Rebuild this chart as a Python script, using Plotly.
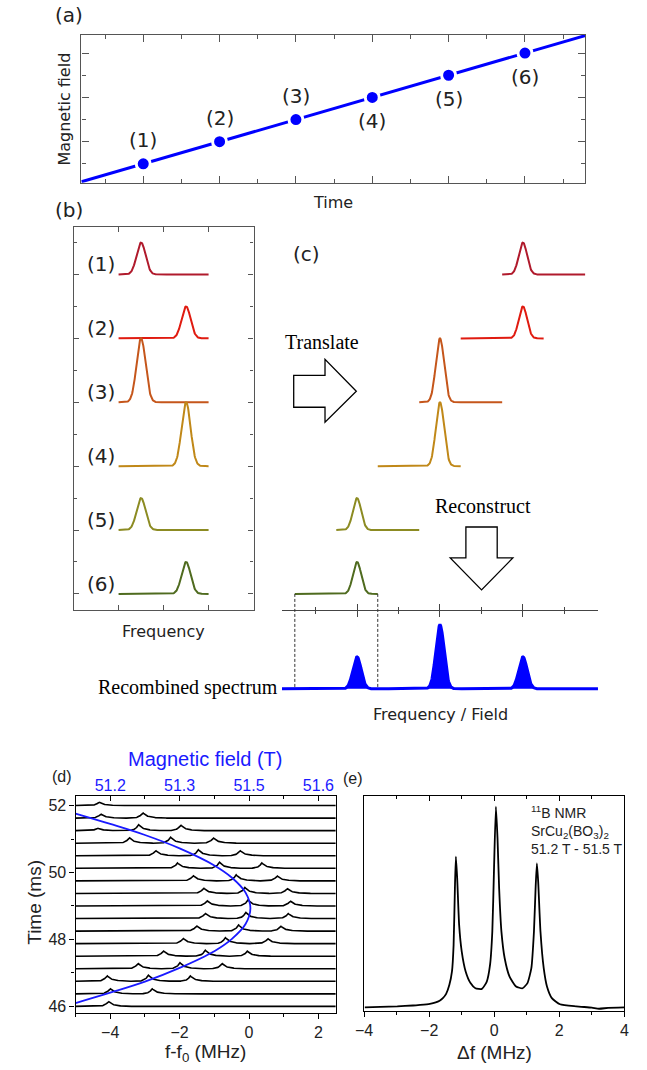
import numpy as np
import plotly.graph_objects as go

W, H = 647, 1070

# ---------------- data ----------------
# (a) linear field ramp and the six acquisition points
ramp_time = [0.19, 6.79]
ramp_field = [0.19, 6.79]
acq_time = [1, 2, 3, 4, 5, 6]
acq_field = [1, 2, 3, 4, 5, 6]
acq_labels = ["(1)", "(2)", "(3)", "(4)", "(5)", "(6)"]
label_above = [True, True, True, False, False, False]

# (b)/(c) schematic spectra
spec_labels = ["(1)", "(2)", "(3)", "(4)", "(5)", "(6)"]
spec_peak_pos = [0.5, 1.5, 0.5, 1.5, 0.5, 1.5]      # local frequency of the line
spec_peak_height = [1, 1, 2, 2, 1, 1]
spec_baseline = [10.5, 8.5, 6.5, 4.5, 2.5, 0.5]      # vertical stacking level
spec_shift = [1.5, 0.5, -0.5, -1.5, -2.5, -3.5]      # translation along frequency/field
spec_colors = ["#b01a2c", "#e01b10", "#c5561b", "#c08818", "#8c8b22", "#4f6b1f"]
spec_window = [0.0, 2.0]
peak_sigma = 0.1
recombined_base = -2.47

# (d) time-resolved 11B spectra: acquisition time and line positions (MHz)
trace_time = [46.0, 46.375, 46.75, 47.125, 47.5, 47.875, 48.25, 48.625, 49.0,
              49.375, 49.75, 50.125, 50.5, 50.875, 51.25, 51.625, 52.0]
trace_peaks = [
    [-4.05],
    [-4.00, -2.79],
    [-4.09, -2.90, -1.69],
    [-3.20, -1.99, -0.78],
    [-2.47, -1.26, -0.05],
    [-1.90, -0.68, 0.54],
    [-1.51, -0.30, 0.91],
    [-1.26, -0.09, 1.13],
    [-1.21, -0.03, 1.19],
    [-1.31, -0.12, 1.10],
    [-1.61, -0.37, 0.81],
    [-2.06, -0.85, 0.37],
    [-2.69, -1.46, -0.26],
    [-3.45, -2.26, -1.03],
    [-4.37, -3.18, -1.97],
    [-4.27, -3.06],
    [-4.32],
]
trace_heights = [
    [0.15],
    [0.16, 0.15],
    [0.17, 0.18, 0.16],
    [0.16, 0.18, 0.16],
    [0.16, 0.18, 0.15],
    [0.16, 0.18, 0.15],
    [0.16, 0.18, 0.15],
    [0.16, 0.18, 0.15],
    [0.16, 0.18, 0.15],
    [0.16, 0.18, 0.15],
    [0.16, 0.18, 0.15],
    [0.16, 0.18, 0.16],
    [0.16, 0.18, 0.16],
    [0.17, 0.18, 0.16],
    [0.08, 0.18, 0.17],
    [0.12, 0.16],
    [0.10],
]
# line profile of a single resonance (offset in MHz, relative amplitude)
profile_offset = [-0.35, -0.20, -0.10, -0.05, 0.0, 0.06, 0.12, 0.22, 0.40, 0.70]
profile_amp = [0.0, 0.08, 0.30, 0.60, 1.0, 0.65, 0.40, 0.20, 0.07, 0.0]

# magnetic field pulse mapped onto the frequency axis
field_x = [-5.0, -4.0, -3.0, -2.0, -1.0, -0.5, -0.1, 0.04, -0.1, -0.5, -1.0, -2.0, -3.0, -4.0, -5.0]
field_t = [46.10, 46.41, 46.74, 47.15, 47.65, 48.01, 48.46, 48.93, 49.40, 49.85, 50.21, 50.72, 51.12, 51.45, 51.76]
field_tickvals = [-4, -2, 0, 2]
field_ticktext = ["51.2", "51.3", "51.5", "51.6"]

# (e) reconstructed spectrum
recon_df = [-3.98, -3.50, -2.98, -2.50, -2.28, -1.98, -1.80, -1.68, -1.58, -1.48, -1.38, -1.30,
            -1.25, -1.21, -1.18, -1.14, -1.08, -1.00, -0.88, -0.73, -0.58, -0.38, -0.23, -0.13,
            -0.06, -0.01, 0.05, 0.10, 0.15, 0.22, 0.32, 0.47, 0.67, 0.87, 1.02, 1.14, 1.22,
            1.27, 1.31, 1.35, 1.42, 1.52, 1.62, 1.77, 2.02, 2.52, 3.00, 3.22, 3.50, 4.00]
recon_int = [0.017, 0.020, 0.022, 0.026, 0.029, 0.034, 0.040, 0.048, 0.060, 0.080, 0.122, 0.184,
             0.307, 0.569, 0.716, 0.616, 0.400, 0.276, 0.184, 0.130, 0.106, 0.103, 0.137, 0.214,
             0.369, 0.647, 0.948, 0.800, 0.569, 0.369, 0.245, 0.160, 0.114, 0.106, 0.130, 0.199,
             0.369, 0.569, 0.685, 0.600, 0.369, 0.199, 0.114, 0.060, 0.032, 0.022, 0.016, 0.011,
             0.015, 0.017]


# ---------------- helpers ----------------
def px_x(x):
    return x / W


def px_y(y):
    return 1 - y / H


def gauss(u, center, height):
    return height * np.exp(-0.5 * ((u - center) / peak_sigma) ** 2)


SANS = "DejaVu Sans"
ARIAL = "Liberation Sans, Arial"
SERIF = "Liberation Serif, Times New Roman"

fig = go.Figure()

# ---------------- (a) field ramp ----------------
fig.add_trace(go.Scatter(x=ramp_time, y=ramp_field, mode="lines",
                         line=dict(color="#0000ff", width=3), xaxis="x", yaxis="y"))
fig.add_trace(go.Scatter(x=acq_time, y=acq_field, mode="markers",
                         marker=dict(color="#0000ff", size=14, line=dict(color="white", width=3)),
                         xaxis="x", yaxis="y"))
for t, f, lab, up in zip(acq_time, acq_field, acq_labels, label_above):
    fig.add_annotation(x=t, y=f, xref="x", yref="y", text=lab, showarrow=False,
                       xanchor="center", yanchor="middle",
                       yshift=24 if up else -24,
                       font=dict(family=SANS, size=20, color="#222"))

# ---------------- (b) acquired spectra ----------------
u = np.linspace(spec_window[0], spec_window[1], 241)
for k in range(6):
    y = spec_baseline[k] + gauss(u, spec_peak_pos[k], spec_peak_height[k])
    fig.add_trace(go.Scatter(x=u, y=y, mode="lines", line=dict(color=spec_colors[k], width=2),
                             xaxis="x2", yaxis="y2"))
    fig.add_annotation(x=px_x(94), xref="paper", y=spec_baseline[k], yref="y2", yshift=10,
                       xanchor="center", yanchor="middle",
                       text=spec_labels[k], showarrow=False,
                       font=dict(family=SANS, size=20, color="#222"))

# ---------------- (c) translated spectra and recombination ----------------
for k in range(6):
    y = spec_baseline[k] + gauss(u, spec_peak_pos[k], spec_peak_height[k])
    fig.add_trace(go.Scatter(x=u + spec_shift[k], y=y, mode="lines",
                             line=dict(color=spec_colors[k], width=2),
                             xaxis="x3", yaxis="y3"))

xg = np.linspace(-3.81, 3.81, 763)
total = np.zeros_like(xg)
count = np.zeros_like(xg)
for k in range(6):
    local = xg - spec_shift[k]
    inside = (local >= spec_window[0]) & (local <= spec_window[1])
    total += np.where(inside, gauss(local, spec_peak_pos[k], spec_peak_height[k]), 0.0)
    count += inside
recombined = np.where(count > 0, total / np.maximum(count, 1), 0.0)

fig.add_trace(go.Scatter(x=xg, y=np.full_like(xg, recombined_base), mode="lines",
                         line=dict(color="#0000ff", width=0), xaxis="x3", yaxis="y3"))
fig.add_trace(go.Scatter(x=xg, y=recombined_base + recombined, mode="lines", fill="tonexty",
                         fillcolor="#0000ff", line=dict(color="#0000ff", width=3),
                         xaxis="x3", yaxis="y3"))
# helper trace so the upper tick axis of (c) is rendered
fig.add_trace(go.Scatter(x=[0], y=[0], mode="markers", marker=dict(opacity=0),
                         xaxis="x4", yaxis="y3", hoverinfo="skip"))

# dashed guides marking the window of spectrum (6)
for edge in spec_window:
    fig.add_shape(type="line", xref="x3", yref="y3",
                  x0=edge + spec_shift[5], x1=edge + spec_shift[5],
                  y0=spec_baseline[5], y1=recombined_base,
                  line=dict(color="#333", width=1, dash="3px,2px"))


def poly(points):
    return "M " + " L ".join(f"{px_x(a):.5f},{px_y(b):.5f}" for a, b in points) + " Z"


fig.add_shape(type="path", xref="paper", yref="paper",
              path=poly([(291, 376), (323, 376), (323, 360), (355, 392),
                         (323, 423), (323, 408), (291, 408)]),
              line=dict(color="black", width=1.3), fillcolor="white")
fig.add_shape(type="path", xref="paper", yref="paper",
              path=poly([(467, 528), (499, 528), (499, 559), (515, 559),
                         (483, 591), (451, 559), (467, 559)]),
              line=dict(color="black", width=1.3), fillcolor="white")

# ---------------- (d) time-resolved spectra ----------------
xd = np.linspace(-5, 2.5, 751)
for t, peaks, heights in zip(trace_time, trace_peaks, trace_heights):
    y = np.full_like(xd, t)
    for p, h in zip(peaks, heights):
        y = y + h * np.interp(xd - p, profile_offset, profile_amp, left=0.0, right=0.0)
    fig.add_trace(go.Scatter(x=xd, y=y, mode="lines", line=dict(color="black", width=1.6),
                             xaxis="x5", yaxis="y5"))
fig.add_trace(go.Scatter(x=field_x, y=field_t, mode="lines", line_shape="spline",
                         line=dict(color="#1a1aff", width=1.8), xaxis="x6", yaxis="y5"))

# ---------------- (e) reconstructed spectrum ----------------
fig.add_trace(go.Scatter(x=recon_df, y=recon_int, mode="lines", line_shape="spline",
                         line=dict(color="black", width=1.8, smoothing=0.5),
                         xaxis="x7", yaxis="y7"))
fig.add_trace(go.Scatter(x=[0], y=[0], mode="markers", marker=dict(opacity=0),
                         xaxis="x8", yaxis="y7", hoverinfo="skip"))

# ---------------- axes ----------------
gray = "#555555"
base = dict(showgrid=False, zeroline=False)

fig.update_layout(
    width=W, height=H, margin=dict(l=0, r=0, t=0, b=0),
    paper_bgcolor="white", plot_bgcolor="white", showlegend=False,
    xaxis=dict(base, domain=[px_x(74), px_x(589)], range=[0.19, 6.79], anchor="y",
               showline=True, linecolor=gray, linewidth=1.3, mirror="ticks",
               ticks="inside", ticklen=7, tickwidth=1.3, tickcolor=gray, tick0=0, dtick=1,
               minor=dict(ticks="inside", ticklen=4, tickwidth=1.3, tickcolor=gray, tick0=0, dtick=0.5),
               showticklabels=False),
    yaxis=dict(base, domain=[px_y(183), px_y(35)], range=[0.15, 6.82], anchor="x",
               showline=True, linecolor=gray, linewidth=1.3, mirror="ticks",
               ticks="inside", ticklen=7, tickwidth=1.3, tickcolor=gray, tick0=0, dtick=2,
               minor=dict(ticks="inside", ticklen=4, tickwidth=1.3, tickcolor=gray, tick0=0, dtick=1),
               showticklabels=False),
    xaxis2=dict(base, domain=[px_x(66), px_x(250)], range=[-1, 3], anchor="y2",
                showline=True, linecolor=gray, linewidth=1.3, mirror="ticks",
                ticks="inside", ticklen=5, tickwidth=1.2, tickcolor=gray,
                tickvals=[0, 1, 2], showticklabels=False),
    yaxis2=dict(base, domain=[px_y(611), px_y(227)], range=[0, 12], anchor="x2",
                showline=True, linecolor=gray, linewidth=1.3, mirror="ticks",
                ticks="inside", ticklen=5, tickwidth=1.2, tickcolor=gray, tick0=0.5, dtick=2,
                minor=dict(ticks="inside", ticklen=3, tickwidth=1.2, tickcolor=gray, tick0=0.5, dtick=1),
                showticklabels=False),
    xaxis3=dict(base, domain=[px_x(279), px_x(602)], range=[-3.81, 3.81], anchor="free",
                position=px_y(611), showline=True, linecolor="#444", linewidth=1.4,
                ticks="outside", ticklen=6, tickwidth=1.3, tickcolor="#444", tick0=0, dtick=2,
                minor=dict(ticks="outside", ticklen=3, tickwidth=1.3, tickcolor="#444", tick0=0, dtick=1),
                showticklabels=False),
    xaxis4=dict(base, overlaying="x3", side="top", range=[-3.81, 3.81], anchor="free",
                position=px_y(611), showline=False,
                ticks="outside", ticklen=6, tickwidth=1.3, tickcolor="#444", tick0=0, dtick=2,
                minor=dict(ticks="outside", ticklen=3, tickwidth=1.3, tickcolor="#444", tick0=0, dtick=1),
                showticklabels=False),
    yaxis3=dict(base, domain=[px_y(700), px_y(227)], range=[-2.78, 12], anchor="x3", visible=False),
    xaxis5=dict(base, domain=[px_x(68), px_x(334)], range=[-5, 2.5], anchor="y5",
                showline=True, linecolor="black", linewidth=1.2, mirror=True,
                ticks="outside", ticklen=5, tickwidth=1.1, tickcolor="black", tick0=0, dtick=2,
                minor=dict(ticks="outside", ticklen=3, tickwidth=1.1, tickcolor="black", tick0=0, dtick=1),
                tickfont=dict(family=ARIAL, size=16, color="#222")),
    xaxis6=dict(base, overlaying="x5", side="top", anchor="y5", range=[-5, 2.5],
                tickmode="array", tickvals=field_tickvals, ticktext=field_ticktext,
                ticks="inside", ticklen=5, tickwidth=1.1, tickcolor="black",
                minor=dict(tickmode="linear", ticks="inside", ticklen=3, tickwidth=1.1,
                           tickcolor="black", tick0=0, dtick=1),
                tickfont=dict(family=ARIAL, size=16, color="#1a1aff")),
    yaxis5=dict(base, domain=[px_y(1015), px_y(797)], range=[45.8, 52.3], anchor="x5",
                showline=True, linecolor="black", linewidth=1.2, mirror=True,
                ticks="outside", ticklen=5, tickwidth=1.1, tickcolor="black", tick0=0, dtick=2,
                minor=dict(ticks="outside", ticklen=3, tickwidth=1.1, tickcolor="black", tick0=0, dtick=1),
                tickfont=dict(family=ARIAL, size=16, color="#222")),
    xaxis7=dict(base, domain=[px_x(363), px_x(629)], range=[-4, 4], anchor="y7",
                showline=True, linecolor="black", linewidth=1.2, mirror=True,
                ticks="outside", ticklen=5, tickwidth=1.1, tickcolor="black", tick0=0, dtick=2,
                minor=dict(ticks="outside", ticklen=3, tickwidth=1.1, tickcolor="black", tick0=0, dtick=1),
                tickfont=dict(family=ARIAL, size=16, color="#222")),
    xaxis8=dict(base, overlaying="x7", side="top", anchor="y7", range=[-4, 4],
                ticks="inside", ticklen=5, tickwidth=1.1, tickcolor="black", tick0=0, dtick=2,
                minor=dict(ticks="inside", ticklen=3, tickwidth=1.1, tickcolor="black", tick0=0, dtick=1),
                showticklabels=False),
    yaxis7=dict(base, domain=[px_y(1013), px_y(797)], range=[0, 1], anchor="x7",
                showline=True, linecolor="black", linewidth=1.2, mirror=True,
                ticks="", showticklabels=False),
)


def label(x, y, text, family, size, color="#222", angle=0, xanchor="center"):
    fig.add_annotation(x=px_x(x), y=px_y(y), xref="paper", yref="paper", text=text,
                       showarrow=False, textangle=angle, xanchor=xanchor, yanchor="middle",
                       font=dict(family=family, size=size, color=color))


label(61, 15, "(a)", SANS, 20)
label(57, 109, "Magnetic field", SANS, 16, angle=-90)
label(331, 203, "Time", SANS, 16)
label(61, 210, "(b)", SANS, 20)
label(158, 633, "Frequency", SANS, 16)
label(304, 254, "(c)", SANS, 20)
label(320, 343, "Translate", SERIF, 20, color="black")
label(484, 507, "Reconstruct", SERIF, 20, color="black")
label(183, 689, "Recombined spectrum", SERIF, 20, color="black")
label(441, 716, "Frequency / Field", SANS, 16)

label(201, 760, "Magnetic field (T)", ARIAL, 20, color="#1a1aff")
label(54, 778, "(d)", ARIAL, 16)
label(26, 904, "Time (ms)", ARIAL, 19, angle=-90)
label(201, 1055, "f-f<sub>0</sub> (MHz)", ARIAL, 19)
label(352, 780, "(e)", ARIAL, 16)
label(496, 1054, "\u0394f (MHz)", ARIAL, 19)
fig.add_annotation(x=px_x(531), y=px_y(832), xref="paper", yref="paper",
                   text="<sup>11</sup>B NMR<br>SrCu<sub>2</sub>(BO<sub>3</sub>)<sub>2</sub><br>51.2 T - 51.5 T",
                   showarrow=False, xanchor="left", yanchor="middle", align="left",
                   font=dict(family=ARIAL, size=14, color="#222"))

fig.write_html("out.html")
